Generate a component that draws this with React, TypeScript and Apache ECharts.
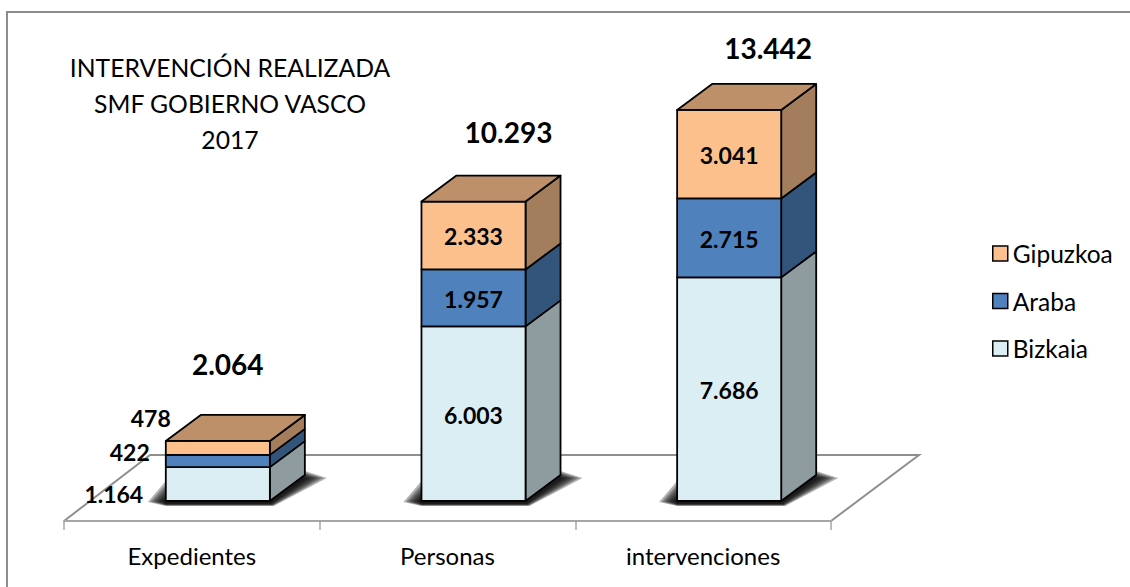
import React, { useEffect, useRef } from "react";
import * as echarts from "echarts";

const categories = ["Expedientes", "Personas", "intervenciones"];
const bizkaia = [1164, 6003, 7686];
const araba = [422, 1957, 2715];
const gipuzkoa = [478, 2333, 3041];
const totals = [2064, 10293, 13442];
const titleLines = ["INTERVENCIÓN REALIZADA", "SMF GOBIERNO VASCO", "2017"];

const FONT = "Lato, Carlito, sans-serif";
const DX = 35;
const DY = -26;
const BAR_SHIFT = 26;
const SHADOW_LAYERS = 6;

const fmt = (v: number) => String(v).replace(/\B(?=(\d{3})+(?!\d))/g, ".");

const shade = (hex: string, k: number) => {
  const n = parseInt(hex.slice(1), 16);
  const c = [(n >> 16) & 255, (n >> 8) & 255, n & 255].map((v) => Math.round(v * k));
  return `rgb(${c[0]},${c[1]},${c[2]})`;
};

const stackSeries = [
  { name: "Bizkaia", values: bizkaia, color: "#DBEEF4", out: [-52, 10] },
  { name: "Araba", values: araba, color: "#4F81BD", out: [-36, -9] },
  { name: "Gipuzkoa", values: gipuzkoa, color: "#FCC08D", out: [-15, -30] },
];

const totalOffsets = [
  [62, -77],
  [87, -70],
  [91, -62],
];

function frontBox(api: any, idx: number, start: number, end: number) {
  const bandW = api.size([1, 0])[0];
  const w = bandW * 0.407;
  const c0 = api.coord([idx, start]);
  const c1 = api.coord([idx, end]);
  const x0 = c0[0] + BAR_SHIFT - w / 2;
  return { x0, x1: x0 + w, yBottom: c0[1], yTop: c1[1], w };
}

const stroke = { stroke: "#000", lineWidth: 1.8, lineJoin: "round" };

// the soft contact shadow: stacked translucent polygons between a wide and a tight outline
function shadowLayers(b: { x0: number; x1: number; yBottom: number }) {
  const y = b.yBottom;
  const { x0, x1 } = b;
  const outer = [
    [x0 - 18, y + 1],
    [x0, y - 20],
    [x1 + DX, y + DY - 4],
    [x1 + DX + 22, y + DY + 3],
    [x1 + 4, y + 5],
    [x0, y + 5],
  ];
  const inner = [
    [x0 - 4, y],
    [x0 + 3, y - 5],
    [x1 + DX - 2, y + DY + 2],
    [x1 + DX + 3, y + DY + 3],
    [x1 + 1, y + 3],
    [x0, y + 3],
  ];
  const out: any[] = [];
  for (let k = 0; k < SHADOW_LAYERS; k++) {
    const f = k / (SHADOW_LAYERS - 1);
    out.push({
      type: "polygon",
      silent: true,
      shape: {
        points: outer.map((p, j) => [
          p[0] + (inner[j][0] - p[0]) * f,
          p[1] + (inner[j][1] - p[1]) * f,
        ]),
      },
      style: { fill: "#000", opacity: 0.3 },
    });
  }
  return out;
}

function makeStack(s: (typeof stackSeries)[number], seriesIdx: number) {
  const isTop = seriesIdx === stackSeries.length - 1;
  const isBottom = seriesIdx === 0;
  return {
    type: "custom",
    name: s.name,
    coordinateSystem: "cartesian2d",
    xAxisIndex: 0,
    yAxisIndex: 0,
    itemStyle: { color: s.color, borderColor: "#000", borderWidth: 1.8 },
    encode: { x: 0, y: [1, 2] },
    z: 3 + seriesIdx,
    data: s.values.map((v, i) => {
      let start = 0;
      for (let k = 0; k < seriesIdx; k++) start += stackSeries[k].values[i];
      return [i, start, start + v, v];
    }),
    renderItem: (_p: any, api: any) => {
      const i = api.value(0);
      const b = frontBox(api, i, api.value(1), api.value(2));
      const children: any[] = [];
      if (isBottom) children.push(...shadowLayers(b));
      children.push({
        type: "polygon",
        shape: {
          points: [
            [b.x1, b.yBottom],
            [b.x1 + DX, b.yBottom + DY],
            [b.x1 + DX, b.yTop + DY],
            [b.x1, b.yTop],
          ],
        },
        style: { fill: shade(s.color, 0.65), ...stroke },
      });
      children.push({
        type: "rect",
        shape: { x: b.x0, y: b.yTop, width: b.w, height: b.yBottom - b.yTop },
        style: { fill: s.color, ...stroke },
      });
      if (isTop) {
        children.push({
          type: "polygon",
          shape: {
            points: [
              [b.x0, b.yTop],
              [b.x0 + DX, b.yTop + DY],
              [b.x1 + DX, b.yTop + DY],
              [b.x1, b.yTop],
            ],
          },
          style: { fill: shade(s.color, 0.75), ...stroke },
        });
      }
      const small = b.yBottom - b.yTop < 40;
      children.push({
        type: "text",
        z2: 10,
        style: {
          text: fmt(api.value(3)),
          x: small ? b.x0 + s.out[0] : (b.x0 + b.x1) / 2,
          y: (small ? s.out[1] : 1) + (b.yBottom + b.yTop) / 2,
          fill: "#000",
          font: `bold 23px ${FONT}`,
          textAlign: "center",
          textVerticalAlign: "middle",
        },
      });
      return { type: "group", children };
    },
  };
}

const totalSeries = {
  type: "custom",
  name: "Total",
  coordinateSystem: "cartesian2d",
  z: 10,
  encode: { x: 0, y: 1 },
  data: totals.map((t, i) => [i, t]),
  renderItem: (_p: any, api: any) => {
    const i = api.value(0);
    const b = frontBox(api, i, 0, api.value(1));
    return {
      type: "text",
      style: {
        text: fmt(api.value(1)),
        x: b.x0 + totalOffsets[i][0],
        y: b.yTop + totalOffsets[i][1],
        fill: "#000",
        font: `bold 28px ${FONT}`,
        textAlign: "center",
        textVerticalAlign: "middle",
      },
    };
  },
};

export default function App() {
  const ref = useRef<HTMLDivElement>(null);
  useEffect(() => {
    document.body.style.margin = "0";
    const chart = echarts.init(ref.current!, undefined, { renderer: "svg" });
    chart.setOption({
      animation: false,
      backgroundColor: "#fff",
      textStyle: { fontFamily: FONT },
      grid: { left: 64, right: 299, top: 93.7, bottom: 86, containLabel: false },
      xAxis: {
        type: "category",
        data: categories,
        offset: 20,
        axisLine: { onZero: false, lineStyle: { color: "#a6a6a6", width: 2 } },
        axisTick: { show: true, length: 9, lineStyle: { color: "#a6a6a6", width: 1.5 } },
        axisLabel: { color: "#000", fontSize: 24, fontFamily: FONT, margin: 22, interval: 0 },
      },
      yAxis: { type: "value", min: 0, max: 14000, show: false, splitLine: { show: false } },
      legend: {
        orient: "vertical",
        left: 987,
        top: 236,
        itemWidth: 15,
        itemHeight: 15,
        itemGap: 22.5,
        icon: "rect",
        data: ["Gipuzkoa", "Araba", "Bizkaia"],
        selectedMode: false,
        itemStyle: { borderColor: "#000", borderWidth: 1.5 },
        textStyle: { color: "#000", fontSize: 24.5, fontFamily: FONT, padding: [0, 0, 0, 0] },
      },
      graphic: [
        {
          type: "polyline",
          silent: true,
          shape: { points: [[7, 587], [7, 12], [1130, 12]] },
          style: { fill: "none", stroke: "#8c8c8c", lineWidth: 2 },
        },
        {
          type: "polyline",
          silent: true,
          shape: { points: [[64, 521], [150, 455], [919, 455], [831, 521]] },
          style: { fill: "none", stroke: "#8f8f8f", lineWidth: 2 },
        },
        ...titleLines.map((t, i) => ({
          type: "text",
          silent: true,
          style: {
            text: t,
            x: 230,
            y: 67 + i * 36,
            fill: "#000",
            font: `24.7px ${FONT}`,
            textAlign: "center",
            textVerticalAlign: "middle",
          },
        })),
      ],
      series: [...stackSeries.map(makeStack), totalSeries],
    });
    return () => chart.dispose();
  }, []);
  return <div ref={ref} style={{ width: 1130, height: 587 }} />;
}
